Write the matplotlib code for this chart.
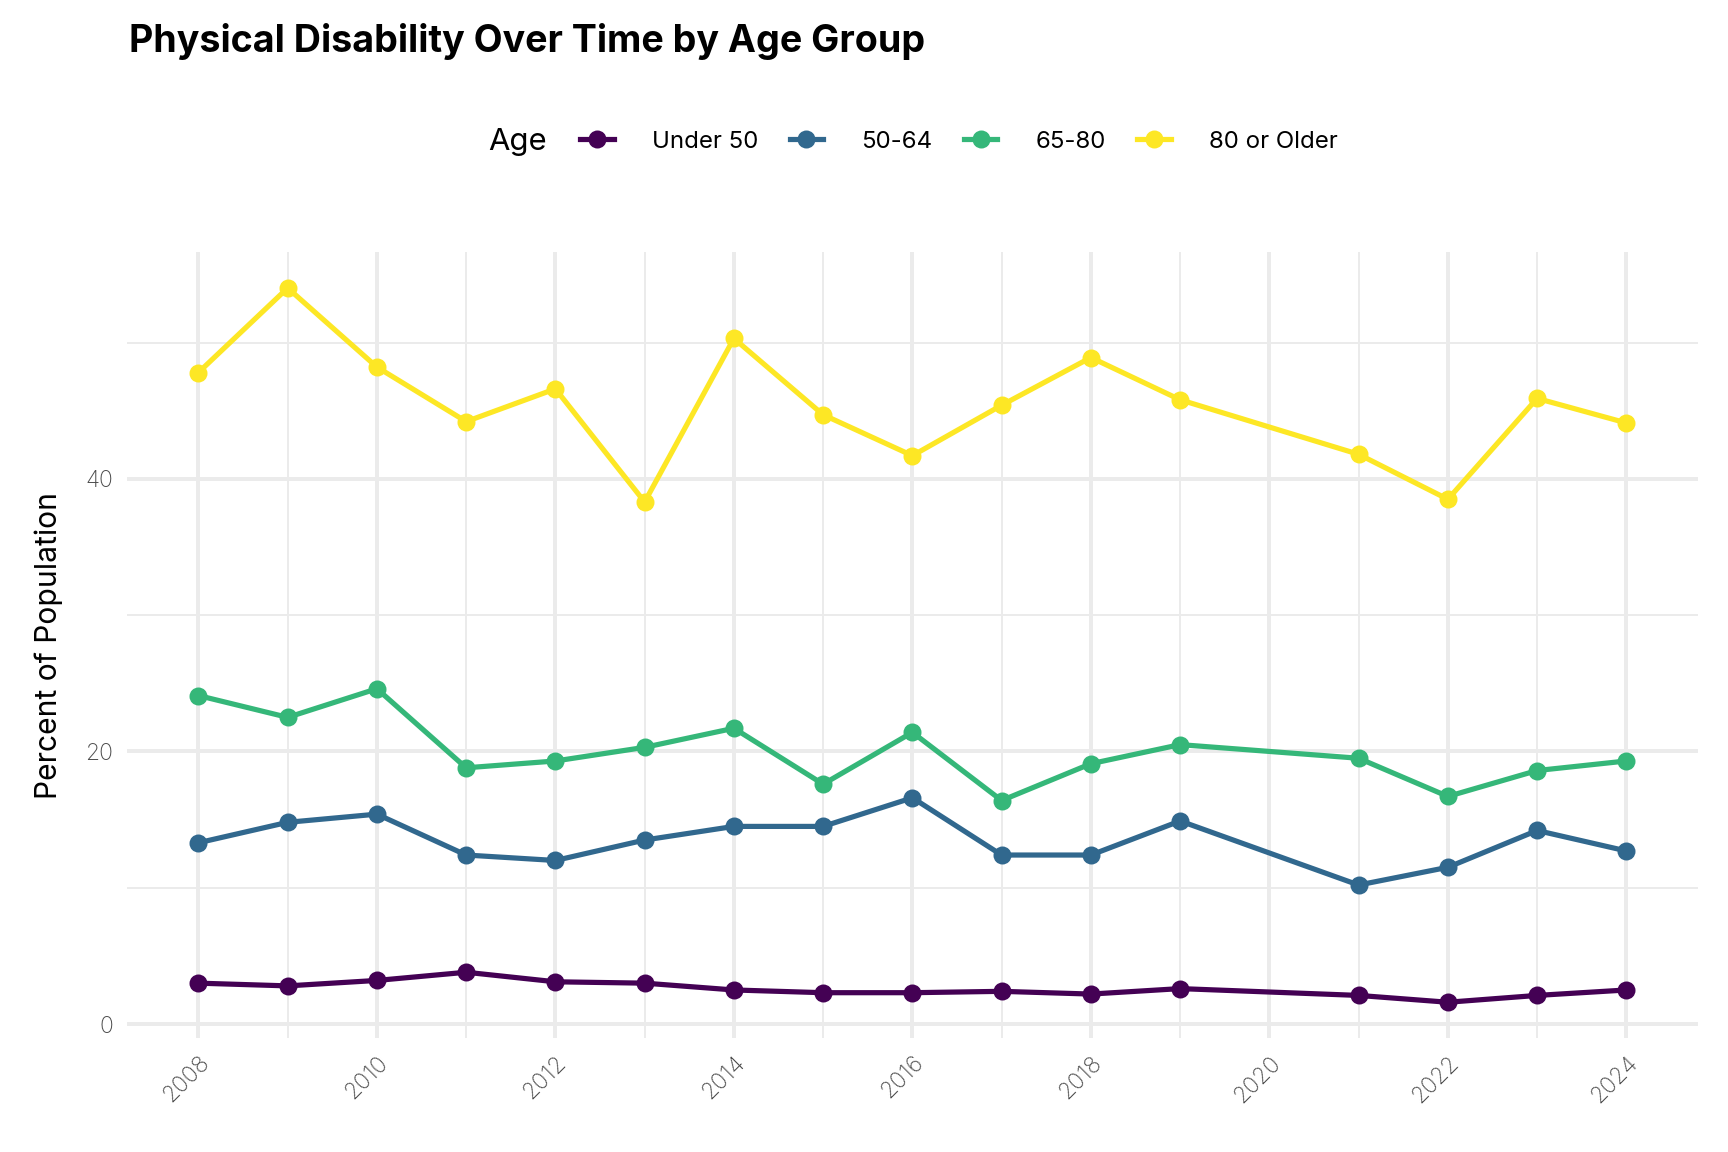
import matplotlib
matplotlib.use("Agg")
import matplotlib.pyplot as plt
from matplotlib.lines import Line2D
from matplotlib.ticker import MultipleLocator

plt.rcParams["font.family"] = ["Inter", "DejaVu Sans"]

# ---- data ----
years = [2008, 2009, 2010, 2011, 2012, 2013, 2014, 2015, 2016, 2017, 2018, 2019,
         2021, 2022, 2023, 2024]

under_50 = [3.0, 2.8, 3.2, 3.8, 3.1, 3.0, 2.5, 2.3, 2.3, 2.4, 2.2, 2.6,
            2.1, 1.6, 2.1, 2.5]
age_50_64 = [13.3, 14.8, 15.4, 12.4, 12.0, 13.5, 14.5, 14.5, 16.6, 12.4, 12.4, 14.9,
             10.2, 11.5, 14.2, 12.7]
age_65_80 = [24.1, 22.5, 24.6, 18.8, 19.3, 20.3, 21.7, 17.6, 21.4, 16.4, 19.1, 20.5,
             19.5, 16.7, 18.6, 19.3]
age_80_plus = [47.8, 54.0, 48.2, 44.2, 46.6, 38.3, 50.3, 44.7, 41.7, 45.4, 48.9, 45.8,
               41.8, 38.5, 45.9, 44.1]

group_labels = ["Under 50", "50-64", "65-80", "80 or Older"]
group_values = [under_50, age_50_64, age_65_80, age_80_plus]
group_colors = ["#440154", "#31688E", "#35B779", "#FDE725"]

fig = plt.figure(figsize=(12, 8), dpi=144)
ax = fig.add_axes([0.0735, 0.099, 0.909, 0.682])

for label, vals, col in zip(group_labels, group_values, group_colors):
    ax.plot(years, vals, color=col, lw=2.6, marker="o", ms=8, label=label, zorder=3)

ax.margins(x=0.05, y=0.05)

# ggplot theme_minimal look
for s in ax.spines.values():
    s.set_visible(False)
ax.xaxis.set_major_locator(MultipleLocator(2))
ax.xaxis.set_minor_locator(MultipleLocator(1))
ax.yaxis.set_major_locator(MultipleLocator(20))
ax.yaxis.set_minor_locator(MultipleLocator(10))
ax.grid(which="major", color="#EBEBEB", lw=2.0, zorder=0)
ax.grid(which="minor", color="#EBEBEB", lw=1.0, zorder=0)
ax.set_axisbelow(True)
ax.tick_params(which="both", length=0)
ax.tick_params(axis="x", labelsize=11.5, labelcolor="#4D4D4D", pad=7)
ax.tick_params(axis="y", labelsize=11.5, labelcolor="#4D4D4D", pad=7)
for t in ax.get_xticklabels():
    t.set_rotation(45)
    t.set_ha("right")
    t.set_rotation_mode("anchor")
    t.set_fontweight("light")
for t in ax.get_yticklabels():
    t.set_fontweight("light")

ax.set_ylabel("Percent of Population", fontsize=15, labelpad=11)

fig.text(0.0745, 0.955, "Physical Disability Over Time by Age Group",
         fontsize=18.8, fontweight="bold", ha="left", va="baseline")

# legend: title on the left, items in a row
handles = [Line2D([0], [0], color=c, lw=2.6, marker="o", ms=8) for c in group_colors]
leg = fig.legend(handles, group_labels, loc="center", bbox_to_anchor=(0.555, 0.877),
                 ncol=4, frameon=False, fontsize=12, handlelength=1.4,
                 handletextpad=1.6, columnspacing=1.3)
fig.text(0.2825, 0.877, "Age", fontsize=15.5, ha="left", va="center")

fig.savefig("out.png", dpi=144)
